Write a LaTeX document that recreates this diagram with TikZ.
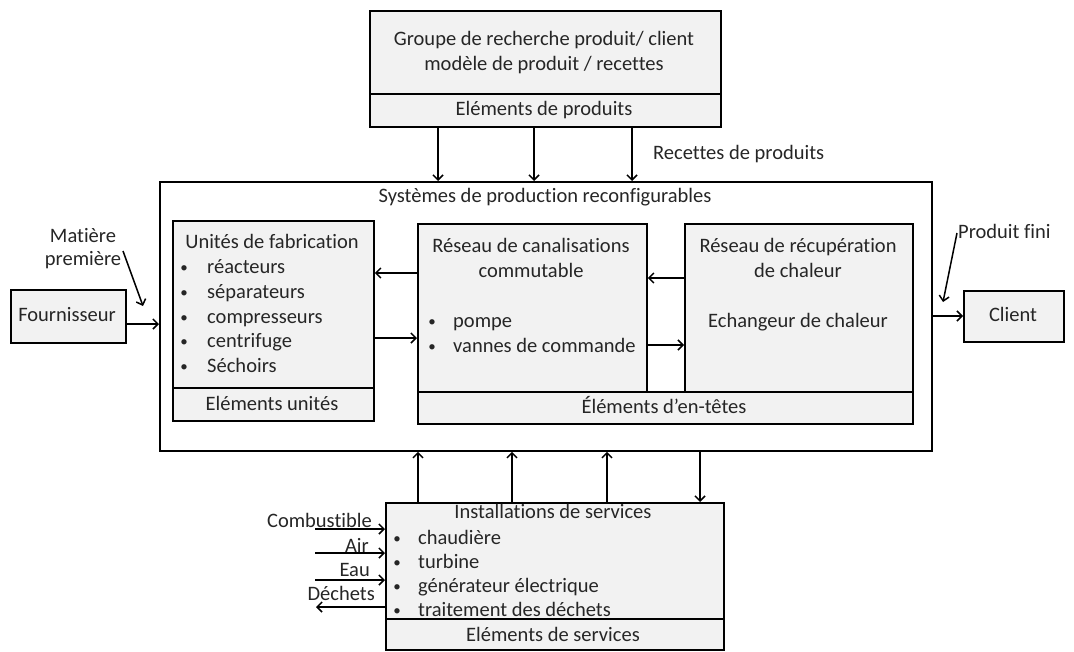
\documentclass[tikz,border=0pt]{standalone}
\usepackage{fontspec}
\setmainfont{Carlito}[Ligatures=NoCommon]
\usetikzlibrary{arrows.meta}
\begin{document}
\begin{tikzpicture}[x=1pt,y=-1pt,
  box/.style={draw=black,line width=1.8pt,fill=black!5,anchor=north west,inner sep=0pt},
  wbox/.style={draw=black,line width=1.8pt,fill=white,anchor=north west,inner sep=0pt},
  txt/.style={inner sep=0pt,font=\fontsize{20.5}{23}\selectfont,text=black!85,text height=14pt,text depth=4pt},
  ltxt/.style={txt,anchor=west},
  arr/.style={line width=1.5pt,-{Straight Barb[length=5pt,width=10pt,line width=1.5pt]}},
  bul/.style={inner sep=0pt,font=\fontsize{15}{18}\selectfont,text=black!85,text height=12pt,text depth=3pt}]
\useasboundingbox (0,0) rectangle (1074,651);
% main box
\node[wbox,minimum width=772pt,minimum height=269pt] (main) at (159,181) {};
\node[txt] (maint) at (545,197) {Systèmes de production reconfigurables};
% top box
\node[box,minimum width=351pt,minimum height=116pt] (top) at (369,10) {};
\draw[line width=1.8pt] (369,94) -- (720,94);
\node[txt] (topt1) at (544,40) {Groupe de recherche produit/ client};
\node[txt] (topt2) at (544,65) {modèle de produit / recettes};
\node[txt] (topt3) at (544,110) {Eléments de produits};
\node[txt,anchor=west] (recet) at (653,154) {Recettes de produits};
\foreach \xx/\nm in {438/a,534/b,632/c}{
  \coordinate (ts\nm) at (\xx,126);
  \coordinate (te\nm) at (\xx,181);
  \draw[arr] (ts\nm) -- (te\nm);
}
% Unites box
\node[box,minimum width=201pt,minimum height=200pt] (unit) at (172,220) {};
\draw[line width=1.8pt] (172,388) -- (373,388);
\node[txt] (unitt) at (272,243) {Unités de fabrication};
\foreach \yy/\tt/\nm in {268/réacteurs/u1,293/séparateurs/u2,318/compresseurs/u3,342/centrifuge/u4,367/Séchoirs/u5}{
  \node[bul] (\nm b) at (184,\yy) {•};
  \node[ltxt] (\nm) at (207,\yy) {\tt};
}
\node[txt] (unite) at (272,405) {Eléments unités};
% header elements box
\node[box,minimum width=495pt,minimum height=32pt] (head) at (417,391) {};
\node[txt] (headt) at (664,408) {Éléments d’en-têtes};
% canal box
\node[box,minimum width=229pt,minimum height=168pt] (canal) at (417,223) {};
\node[txt] (can1) at (531,247) {Réseau de canalisations};
\node[txt] (can2) at (531,272) {commutable};
\node[bul] (cb1) at (432,322) {•};
\node[ltxt] (c1) at (453,322) {pompe};
\node[bul] (cb2) at (432,347) {•};
\node[ltxt] (c2) at (453,347) {vannes de commande};
% heat box
\node[box,minimum width=228pt,minimum height=168pt] (heat) at (684,223) {};
\node[txt] (h1) at (798,247) {Réseau de récupération};
\node[txt] (h2) at (798,272) {de chaleur};
\node[txt] (h3) at (798,322) {Echangeur de chaleur};
% arrows between inner boxes
\draw[arr] (canal.west |- 0,273) -- (unit.east |- 0,273);
\draw[arr] (unit.east |- 0,338) -- (canal.west |- 0,338);
\draw[arr] (heat.west |- 0,278) -- (canal.east |- 0,278);
\draw[arr] (canal.east |- 0,345) -- (heat.west |- 0,345);
% Fournisseur
\node[box,minimum width=115pt,minimum height=53pt] (four) at (10,289) {};
\node[txt] (fourt) at (67,316) {Fournisseur};
\draw[arr] (four.east |- 0,324) -- (main.west |- 0,324);
\node[txt] (mat1) at (83,237) {Matière};
\node[txt] (mat2) at (83,260) {première};
\coordinate (mats) at (123,251);
\coordinate (mate) at (143,306);
\draw[arr] (mats) -- (mate);
% Client
\node[box,minimum width=100pt,minimum height=51pt] (cli) at (963,290) {};
\node[txt] (clit) at (1013,316) {Client};
\draw[arr] (main.east |- 0,316) -- (cli.west |- 0,316);
\node[ltxt] (pf) at (958,233) {Produit fini};
\coordinate (pfs) at (957,233);
\coordinate (pfe) at (943,302);
\draw[arr] (pfs) -- (pfe);
% Services
\node[box,minimum width=338pt,minimum height=147pt] (serv) at (385,502) {};
\draw[line width=1.8pt] (385,619) -- (723,619);
\node[txt] (servt) at (553,513) {Installations de services};
\foreach \yy/\tt/\nm in {539/chaudière/s1,563/turbine/s2,587/générateur électrique/s3,611/traitement des déchets/s4}{
  \node[bul] (\nm b) at (397,\yy) {•};
  \node[ltxt] (\nm) at (418,\yy) {\tt};
}
\node[txt] (serve) at (553,636) {Eléments de services};
\foreach \xx/\nm in {418/a,512/b,607/c}{
  \draw[arr] (serv.north -| \xx,0) -- (main.south -| \xx,0);
}
\draw[arr] (main.south -| 700,0) -- (serv.north -| 700,0);
% left inputs
\node[txt,anchor=east] (comb) at (372,522) {Combustible};
\node[txt,anchor=east] (air) at (369,547) {Air};
\node[txt,anchor=east] (eau) at (370,571) {Eau};
\node[txt,anchor=east] (dech) at (375,595) {Déchets};
\coordinate (combs) at (315,529);
\coordinate (airs) at (315,553);
\coordinate (eaus) at (315,580);
\coordinate (deche) at (316,607);
\draw[arr] (combs) -- (serv.west |- combs);
\draw[arr] (airs) -- (serv.west |- airs);
\draw[arr] (eaus) -- (serv.west |- eaus);
\draw[arr] (serv.west |- deche) -- (deche);
\end{tikzpicture}
\end{document}
